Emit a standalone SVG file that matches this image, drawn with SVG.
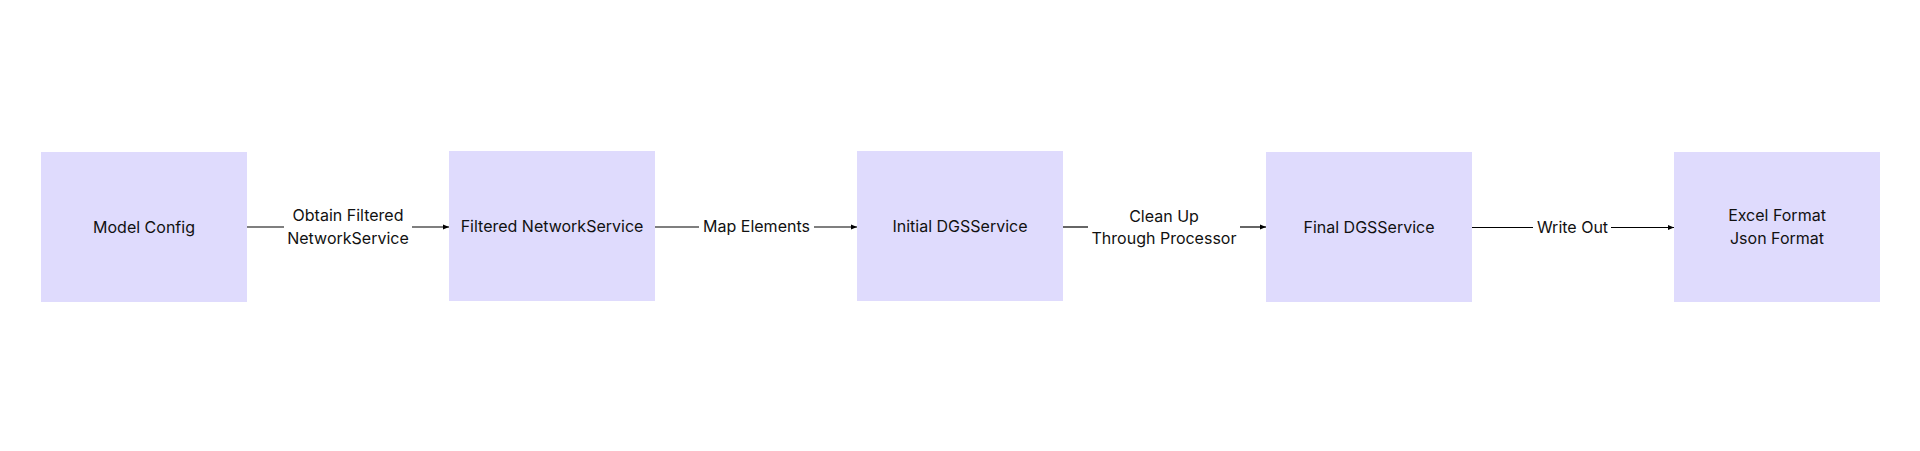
<svg xmlns="http://www.w3.org/2000/svg" width="1920" height="451" viewBox="0 0 1920 451">
<style>
.box{fill:#dfdbfd;}
.t{font-family:Inter,"Liberation Sans",sans-serif;font-size:16px;fill:#111;text-anchor:middle;}
.c{stroke:#000;stroke-width:1.2;fill:none;}
</style>
<defs>
<marker id="arr" markerUnits="userSpaceOnUse" markerWidth="6" markerHeight="6" refX="6" refY="3" orient="auto">
<path d="M0,0.5 L6,3 L0,5.5 z" fill="#000"/>
</marker>
</defs>
<rect width="1920" height="451" fill="#fff"/>
<g id="node-model-config">
<rect class="box" x="41" y="152" width="206" height="150"/>
<text class="t" x="144" y="233">Model Config</text>
</g>
<g id="node-filtered-networkservice">
<rect class="box" x="449" y="151" width="206" height="150"/>
<text class="t" x="552" y="232">Filtered NetworkService</text>
</g>
<g id="node-initial-dgsservice">
<rect class="box" x="857" y="151" width="206" height="150"/>
<text class="t" x="960" y="232">Initial DGSService</text>
</g>
<g id="node-final-dgsservice">
<rect class="box" x="1266" y="152" width="206" height="150"/>
<text class="t" x="1369" y="233">Final DGSService</text>
</g>
<g id="node-output">
<rect class="box" x="1674" y="152" width="206" height="150"/>
<text class="t" x="1777" y="221">Excel Format</text>
<text class="t" x="1777" y="244">Json Format</text>
</g>
<g id="connectors">
<line class="c" x1="247" y1="227" x2="284" y2="227"/>
<line class="c" x1="412" y1="227" x2="449" y2="227" marker-end="url(#arr)"/>
<text class="t" x="348" y="221">Obtain Filtered</text>
<text class="t" x="348" y="244">NetworkService</text>
<line class="c" x1="655" y1="227" x2="699" y2="227"/>
<line class="c" x1="814" y1="227" x2="857" y2="227" marker-end="url(#arr)"/>
<text class="t" x="756.5" y="232">Map Elements</text>
<line class="c" x1="1063" y1="227" x2="1088" y2="227"/>
<line class="c" x1="1240" y1="227" x2="1266" y2="227" marker-end="url(#arr)"/>
<text class="t" x="1164" y="222">Clean Up</text>
<text class="t" x="1164" y="244">Through Processor</text>
<line class="c" x1="1472" y1="227.5" x2="1533" y2="227.5"/>
<line class="c" x1="1611" y1="227.5" x2="1674" y2="227.5" marker-end="url(#arr)"/>
<text class="t" x="1572.5" y="233">Write Out</text>
</g>
</svg>
